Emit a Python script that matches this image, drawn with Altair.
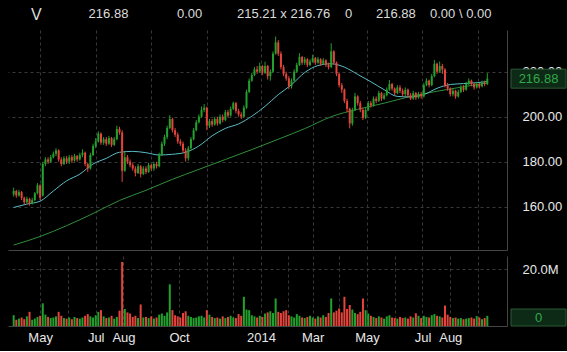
import altair as alt
import pandas as pd

# ---------------- data ----------------
opens = [165.5,167,165,166.5,164,162,163.5,161.5,163,166,
         169.5,165,179,181,180,182,183.5,185,181,179,
         181.5,180,182,180.5,182.5,181,183,184,179,177,
         183,187,189,192.5,188.5,190,188,190.5,187.5,190,
         194.5,193,176,182,180,178.5,177,175,178,174.5,
         177,175.5,178.5,177,179,178,183,188,191,195,
         199,194,192,189,188,185,181.5,186,190,194,
         197.5,200,203,204,196,198,196.5,199,197,200,
         198.5,202,200.5,203.5,206,202.5,201,200,204,211,
         216,218.5,221,220,222.5,219.5,222.5,218,220,228,
         233,228,222,219,217,213.5,216,220,223,226.5,
         224,225.5,223,224.5,226,224,225.5,223.5,225,223,
         222,229,224,219,214,212,207,203.5,197,203,
         209,206,203,199.5,203,206,205,208,207,210.5,
         208,209.5,212,214.5,212.5,210.5,213,211.5,210,212,
         209.5,208,210.5,208.5,210,209,214,216,214,218,
         223.5,220,222.5,221,214,212.5,210,211.5,209,211,
         213,212,214.5,216,214.5,213,214.5,213.5,215,214.5]
closes = [167,165,166.5,164,162,163.5,161.5,163,166,169.5,
          164,179,181,180,182,183.5,185,181,179,181.5,
          180,182,180.5,182.5,181,183,184,179,177,183,
          187,189,192.5,188.5,190,188,190.5,187.5,190,194.5,
          193,176,182,180,178.5,177,175,178,174.5,177,
          175.5,178.5,177,179,178,183,188,191,195,199,
          194,192,189,188,185,181.5,186,190,194,197.5,
          200,203,204,196,198,196.5,199,197,200,198.5,
          202,200.5,203.5,206,202.5,201,200,204,211,216,
          218.5,221,220,222.5,219.5,222.5,218,220,228,233,
          228,222,219,217,213.5,216,220,223,226.5,224,
          225.5,223,224.5,226,224,225.5,223.5,225,223,222,
          229,224,219,214,212,207,203.5,197,203,209,
          206,203,199.5,203,206,205,208,207,210.5,208,
          209.5,212,214.5,212.5,210.5,213,211.5,210,212,209.5,
          208,210.5,208.5,210,209,214,216,214,218,223.5,
          220,222.5,221,214,212.5,210,211.5,209,211,213,
          212,214.5,216,214.5,213,214.5,213.5,215,214.5,216.88]
highs = [168.5,167.5,167.5,167,164.5,164.5,164,164,166.5,170.5,
         170,180,182,182,183,184.5,186,185.5,182,182.5,
         182.5,183,183,183.5,183,184,185.5,184.5,179.5,184,
         188,190.5,193.5,193,191,191,191.5,191,191,196,
         195.5,194,184.5,183,181,179.5,178,179,178.5,178,
         178,179.5,179,180,180,184,189,192,196,200.7,
         199.5,195,193,190,189,186,187,191,195,198.5,
         201,204.5,205.6,204.5,199,199,200,200,201,201,
         203,203,204.5,206.7,206.5,203.5,202,205,212,217,
         219.5,222,222.5,224,223,224.4,223,221,229,235.6,
         234,229,223,220,218,217,221,224,228.2,227,
         226.5,226,225.5,227.5,226.5,226.5,226,226,225.5,224,
         232.6,229.5,224.5,219.5,215,212.5,208,204,204,210.6,
         209.5,207,204,204,207,207,209,209,211.5,211,
         210.5,213,216.3,215,213,214,214,212.5,213,212.5,
         210.5,211.5,211,211,211,215,217,216.5,219,225.2,
         224,224.5,223.5,221.5,215,213,212.5,212,212,214,
         214,215.5,217,216.5,215,215.5,215,216,216,219.3]
lows = [164.5,164,164.5,163,161,161.5,160.5,161,162.5,165.5,
        163,164.5,178,179,179.5,181.5,182.5,180,178,178.5,
        179,179,179.5,180,180,180.5,182,178,175.5,176.5,
        182.5,186,188.5,187.5,187.5,187,187.5,186.5,187,189.5,
        192,171,175.5,179,177.5,176,173.5,174.5,173,174,
        174.5,175,176,176,177,177.5,182.5,187,190,194.5,
        193,191,188,187,184,180,180.5,185.5,189.5,193.5,
        197,199.5,202,194,195,195.5,196,196,196.5,197.5,
        198,199.5,200,203,201.5,200,199,199.5,203.5,210.5,
        215.5,218,219,219.5,218.5,219,216.5,216,219.5,227.5,
        227,221,218,216,212.2,212.5,215.5,219.5,222.5,223,
        223,222,222.5,224,223,223.5,222.5,223,222,221,
        221.5,223,218,213,210.5,206,202,194.8,196,202.5,
        205,202,198.5,199,202.5,204,204.5,206,206.5,207,
        207.5,209,211.5,211.5,209.6,210,210.5,209,209,208.5,
        207.4,207.5,207.5,208,208,208.5,213.5,213,213.5,217.5,
        219,219.5,219,213,211.5,209,209,208,208.5,210.5,
        211,211.5,214,213.5,212,212.5,212.5,213,213.5,214]
volumes_m = [3.8,2.2,2.6,3.0,2.4,3.4,5.0,2.2,2.6,3.2,
             3.6,8.0,4.0,3.2,2.8,3.0,3.4,5.0,3.6,2.8,
             2.6,3.0,2.4,3.2,2.8,2.6,3.0,3.6,4.2,3.4,
             3.0,3.8,5.0,5.6,3.4,2.8,3.0,3.6,2.6,3.2,
             5.4,22.6,6.0,4.8,4.4,3.2,3.6,2.8,7.6,3.0,
             3.2,2.8,3.4,2.6,3.0,4.0,4.4,3.6,4.8,14.7,
             5.6,3.8,3.4,3.0,4.6,5.2,3.6,3.2,2.8,3.0,
             3.4,3.6,3.0,5.6,4.0,3.2,2.8,3.0,2.6,3.4,
             2.8,3.2,3.6,3.0,2.8,4.2,3.6,10.3,5.8,5.6,
             3.8,3.4,3.0,3.6,3.2,4.4,4.8,5.2,4.6,9.7,
             5.0,4.6,5.2,5.6,3.8,3.4,3.0,4.2,3.6,3.0,
             2.8,3.2,3.6,3.0,2.6,3.4,3.0,3.8,3.2,4.6,
             9.7,4.8,5.4,6.2,4.8,10.3,6.0,7.4,5.8,4.6,
             4.2,5.0,9.7,5.6,4.4,3.6,3.2,2.8,3.4,3.0,
             2.6,3.4,3.8,3.0,2.8,2.6,3.2,2.8,3.0,2.6,
             3.4,3.0,4.5,3.6,2.8,3.6,3.2,3.0,3.8,4.2,
             3.6,3.4,3.0,7.2,4.0,3.2,2.8,3.0,2.6,2.8,
             2.4,2.6,2.8,3.0,2.6,3.5,3.0,2.4,2.8,3.6]

# moving averages (trading-day index -> value)
ma50_t = [0,10,20,30,40,50,60,70,80,90,100,110,120,130,140,150,160,170,180,
          190,200,210,220,230,240,250,260,270,280,290,300,310,320,330,340,350,358]
ma50_v = [159.7,161.2,162.5,167,171.5,174.5,179,181.5,184.2,184.6,184,183,183.3,
          184.2,187,191.5,194.8,196.8,200.2,204.6,209.8,214.2,219.6,222.7,223.5,
          222,218.8,215.5,212,209,208.8,209.8,212.6,214.3,214.7,215.1,215.6]
ma200_t = [0,20,40,60,80,100,120,140,160,180,200,220,240,260,280,300,320,340,358]
ma200_v = [143,146.8,151.6,157,162.8,167.3,172.2,176.6,181,185.4,190,194.7,
           200,203.3,206,209,211.3,213.3,215]

month_t = [20,41,62,83,104,125,146,166,187,207,226,246,267,288,309,330,351]
month_labels = ["May","","Jul","Aug","","Oct","","","2014","","Mar","","May","","Jul","Aug",""]

price_ticks = [160, 180, 200, 220]
volume_ticks = [20]
last_price = 216.88
header_texts = ["V", "216.88", "0.00", "215.21 x 216.76", "0", "216.88", "0.00 \\ 0.00"]

# ---------------- styling ----------------
FONT = "Liberation Sans"
GREEN = "#22a22c"
RED = "#e3443b"
CYAN = "#5bbcc6"
MA_GREEN = "#2f8f3a"
GRID = "#383838"
DOMAIN = "#454545"
LABEL = "#e8e8e8"
BOX_FILL = "#0c2a15"
BOX_STROKE = "#2b5a37"
BOX_TEXT = "#32a84a"
PLOT_W = 499

n = len(closes)
df = pd.DataFrame({
    "t": list(range(0, 2 * n, 2)),
    "open": opens, "close": closes, "high": highs, "low": lows, "vol": volumes_m,
})
ma50_df = pd.DataFrame({"t": ma50_t, "v": ma50_v})
ma200_df = pd.DataFrame({"t": ma200_t, "v": ma200_v})
last_df = pd.DataFrame({"p": [last_price]})
one = pd.DataFrame({"a": [0]})

x_scale = alt.Scale(domain=[-0.5, 369.1], nice=False, zero=False)
p_scale = alt.Scale(domain=[140.8, 238.5], nice=False, zero=False)
v_scale = alt.Scale(domain=[0, 24.7], nice=False, zero=False)

up = alt.condition("datum.close >= datum.open", alt.value(GREEN), alt.value(RED))

grid_kw = dict(grid=True, gridColor=GRID, gridDash=[3, 3], gridWidth=1)
lab_kw = dict(labelColor=LABEL, labelFontSize=13, labelFont=FONT)

x_expr = "".join(f"datum.value == {t} ? '{lab}' : " for t, lab in zip(month_t, month_labels) if lab) + "''"

price_x_axis = alt.Axis(values=month_t, labels=False, ticks=False, tickSize=0,
                        domain=True, domainColor=DOMAIN, title=None, **grid_kw)
price_y_axis = alt.Axis(orient="right", values=price_ticks, format=".2f", ticks=False,
                        tickSize=0, labelPadding=15, domain=True, domainColor=DOMAIN,
                        title=None, **grid_kw, **lab_kw)
vol_x_axis = alt.Axis(values=month_t, labelExpr=x_expr, ticks=False, tickSize=0,
                      labelPadding=5, labelOverlap=False, labelFlush=False,
                      domain=True, domainColor=DOMAIN, title=None, **grid_kw, **lab_kw)
vol_y_axis = alt.Axis(orient="right", values=volume_ticks,
                      labelExpr="format(datum.value, '.1f') + 'M'", ticks=False,
                      tickSize=0, labelPadding=15, domain=True, domainColor=DOMAIN,
                      title=None, **grid_kw, **lab_kw)

# ---------------- header ----------------
header_x = [23, 80.6, 169, 229, 337, 368, 422]
header_layers = []
for i, (txt, hx) in enumerate(zip(header_texts, header_x)):
    header_layers.append(
        alt.Chart(one).mark_text(align="left", baseline="alphabetic", font=FONT,
                                 fontSize=16 if i == 0 else 13, color="#dcdcdc")
        .encode(x=alt.value(hx), y=alt.value(20 if i == 0 else 17.5), text=alt.value(txt))
    )
header = alt.layer(*header_layers).properties(width=PLOT_W, height=24)

# ---------------- price panel ----------------
base = alt.Chart(df).encode(x=alt.X("t:Q", scale=x_scale, axis=price_x_axis))
wicks = base.mark_rule(strokeWidth=1).encode(
    y=alt.Y("low:Q", scale=p_scale, axis=price_y_axis), y2="high:Q", color=up)
bodies = base.mark_bar(size=2).encode(y="open:Q", y2="close:Q", color=up)
ma50 = alt.Chart(ma50_df).mark_line(color=CYAN, strokeWidth=1, interpolate="monotone").encode(
    x=alt.X("t:Q", scale=x_scale), y=alt.Y("v:Q", scale=p_scale))
ma200 = alt.Chart(ma200_df).mark_line(color=MA_GREEN, strokeWidth=1, interpolate="monotone").encode(
    x=alt.X("t:Q", scale=x_scale), y=alt.Y("v:Q", scale=p_scale))
box = alt.Chart(last_df).mark_tick(orient="horizontal", thickness=19, size=55, fill=BOX_FILL,
                                   stroke=BOX_STROKE, strokeWidth=1, opacity=1).encode(
    x=alt.value(530.5), y=alt.Y("p:Q", scale=p_scale))
box_text = alt.Chart(last_df).mark_text(font=FONT, fontSize=13, color=BOX_TEXT,
                                        align="center", baseline="middle").encode(
    x=alt.value(530.5), y=alt.Y("p:Q", scale=p_scale), text=alt.Text("p:Q", format=".2f"))
price = alt.layer(ma200, ma50, wicks, bodies, box, box_text).properties(width=PLOT_W, height=220)

# ---------------- volume panel ----------------
vbars = alt.Chart(df).mark_bar(size=2).encode(
    x=alt.X("t:Q", scale=x_scale, axis=vol_x_axis),
    y=alt.Y("vol:Q", scale=v_scale, axis=vol_y_axis), color=up)
zero_box = alt.Chart(one).mark_rect(fill=BOX_FILL, stroke=BOX_STROKE, strokeWidth=1).encode(
    x=alt.value(503), x2=alt.value(558), y=alt.value(53), y2=alt.value(70))
zero_text = alt.Chart(one).mark_text(font=FONT, fontSize=13, color=BOX_TEXT,
                                     align="center", baseline="middle").encode(
    x=alt.value(530.5), y=alt.value(62), text=alt.value("0"))
filler = alt.Chart(one).mark_rect(color="#000000").encode(
    x=alt.value(0), x2=alt.value(1), y=alt.value(88), y2=alt.value(95))
volume = alt.layer(vbars, zero_box, zero_text, filler).properties(width=PLOT_W, height=70)

chart = alt.vconcat(header, price, volume, spacing=6).properties(
    padding={"left": 8, "top": 0, "right": 0, "bottom": 0},
    background="#000000",
).configure_view(strokeWidth=0)

chart.save("out.html", embed_options={"renderer": "svg", "actions": False})
